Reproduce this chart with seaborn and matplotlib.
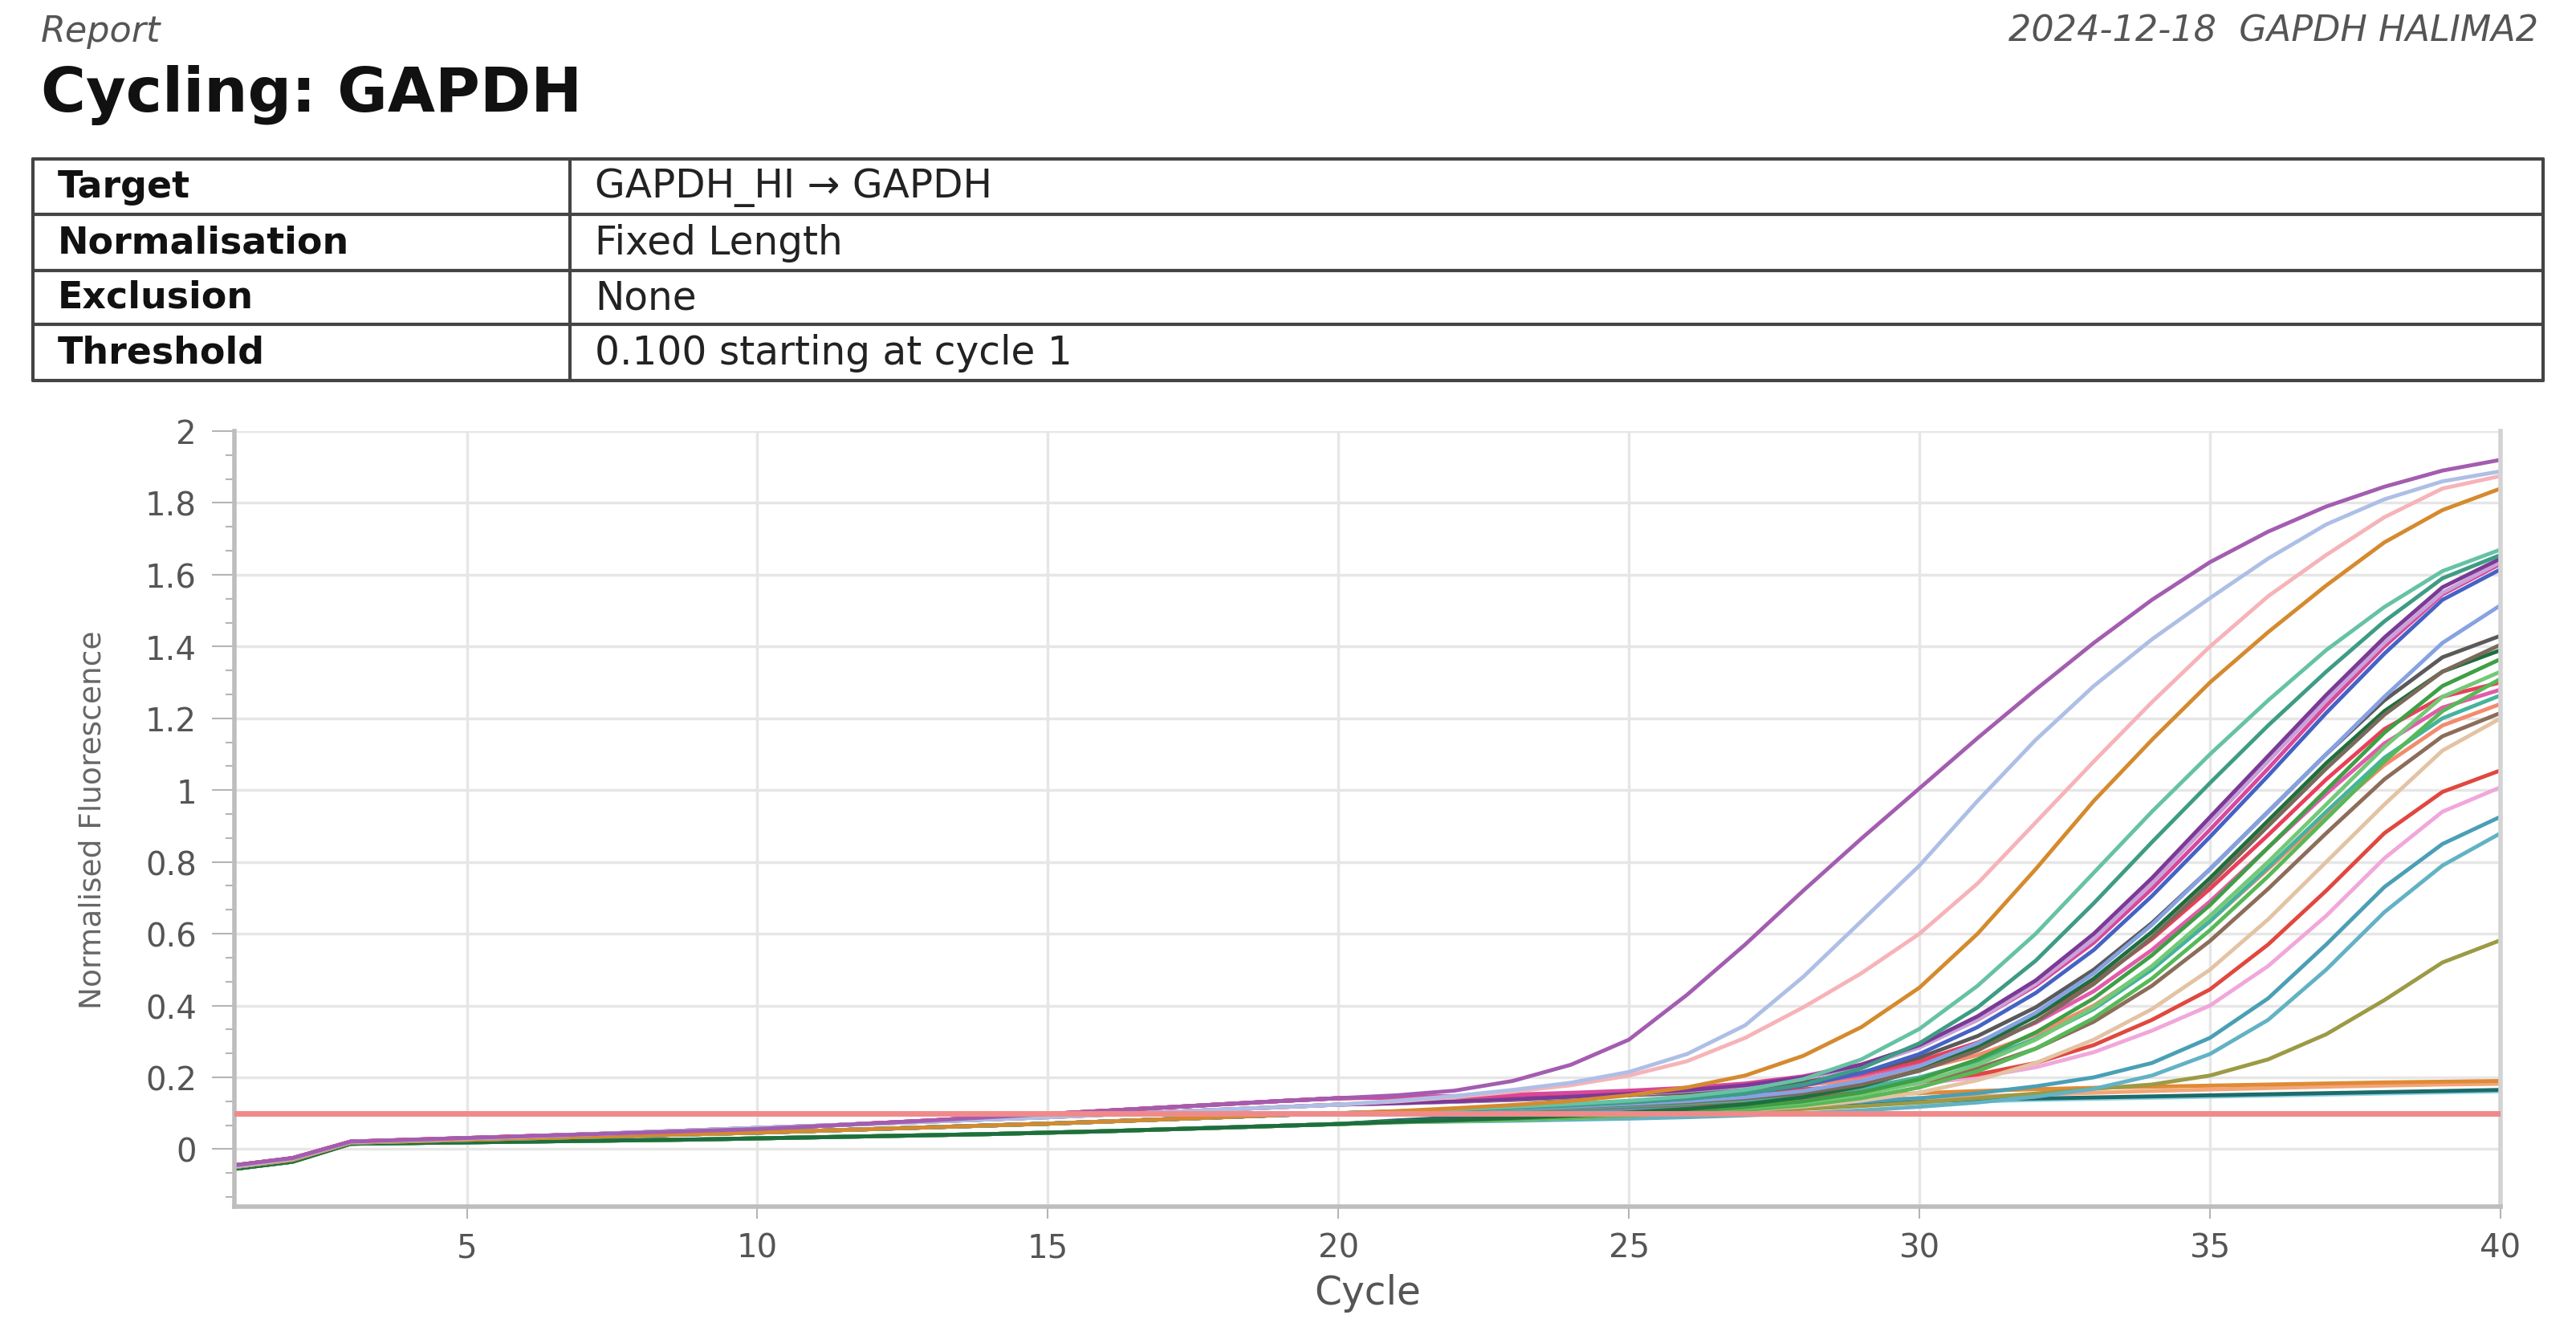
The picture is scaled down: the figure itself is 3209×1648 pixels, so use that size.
import pandas as pd
import seaborn as sns
import matplotlib.pyplot as plt
from matplotlib.ticker import MultipleLocator, AutoMinorLocator, FuncFormatter

cycles = list(range(1, 41))
threshold = 0.100

# early cycles 1-20
base_lo = [-0.055, -0.035, 0.015, 0.017, 0.019, 0.021, 0.023, 0.025, 0.027, 0.030,
           0.033, 0.036, 0.039, 0.042, 0.046, 0.050, 0.055, 0.060, 0.065, 0.070]
base_mid = [-0.050, -0.030, 0.018, 0.022, 0.026, 0.030, 0.034, 0.038, 0.042, 0.046,
            0.051, 0.056, 0.061, 0.066, 0.071, 0.077, 0.083, 0.089, 0.095, 0.100]
base_hi = [-0.048, -0.027, 0.020, 0.025, 0.030, 0.035, 0.041, 0.047, 0.053, 0.059,
           0.065, 0.071, 0.077, 0.083, 0.089, 0.096, 0.103, 0.110, 0.117, 0.124]
base_top = [-0.045, -0.025, 0.021, 0.026, 0.031, 0.036, 0.041, 0.046, 0.051, 0.056,
            0.064, 0.072, 0.080, 0.089, 0.098, 0.107, 0.116, 0.125, 0.134, 0.142]

# cycles 21-40 for each well
purple = [0.150, 0.163, 0.190, 0.235, 0.305, 0.430, 0.570, 0.720, 0.865, 1.005,
          1.145, 1.280, 1.410, 1.530, 1.635, 1.720, 1.790, 1.845, 1.890, 1.920]
light_blue = [0.135, 0.148, 0.165, 0.185, 0.215, 0.265, 0.345, 0.480, 0.635, 0.790,
              0.970, 1.140, 1.290, 1.420, 1.535, 1.645, 1.740, 1.810, 1.860, 1.888]
light_pink = [0.133, 0.145, 0.160, 0.178, 0.205, 0.245, 0.310, 0.395, 0.490, 0.600,
              0.740, 0.910, 1.080, 1.245, 1.400, 1.540, 1.655, 1.760, 1.840, 1.875]
orange = [0.106, 0.114, 0.123, 0.134, 0.150, 0.172, 0.205, 0.260, 0.340, 0.450,
          0.600, 0.780, 0.970, 1.140, 1.300, 1.440, 1.570, 1.690, 1.780, 1.840]
teal = [0.105, 0.111, 0.118, 0.126, 0.135, 0.147, 0.165, 0.195, 0.250, 0.335,
        0.455, 0.600, 0.770, 0.940, 1.100, 1.250, 1.390, 1.510, 1.610, 1.670]
teal_dark = [0.104, 0.109, 0.115, 0.122, 0.130, 0.140, 0.155, 0.180, 0.225, 0.295,
             0.395, 0.525, 0.685, 0.855, 1.020, 1.180, 1.330, 1.470, 1.590, 1.655]
purple_dark = [0.128, 0.133, 0.139, 0.146, 0.154, 0.164, 0.178, 0.200, 0.235, 0.290,
               0.370, 0.470, 0.600, 0.755, 0.925, 1.095, 1.265, 1.425, 1.565, 1.645]
lilac = [0.127, 0.132, 0.138, 0.145, 0.152, 0.162, 0.175, 0.196, 0.230, 0.283,
         0.360, 0.460, 0.585, 0.740, 0.910, 1.080, 1.250, 1.410, 1.550, 1.635]
magenta = [0.145, 0.148, 0.152, 0.157, 0.163, 0.171, 0.183, 0.203, 0.236, 0.287,
           0.360, 0.455, 0.575, 0.725, 0.890, 1.060, 1.235, 1.400, 1.545, 1.630]
blue = [0.105, 0.110, 0.116, 0.123, 0.131, 0.141, 0.155, 0.177, 0.212, 0.265,
        0.340, 0.435, 0.555, 0.705, 0.870, 1.040, 1.215, 1.380, 1.530, 1.615]
cornflower = [0.104, 0.108, 0.113, 0.119, 0.126, 0.134, 0.145, 0.162, 0.190, 0.232,
              0.295, 0.380, 0.490, 0.625, 0.780, 0.940, 1.100, 1.260, 1.410, 1.515]
dark_grey = [0.128, 0.132, 0.137, 0.143, 0.150, 0.158, 0.169, 0.186, 0.213, 0.255,
             0.315, 0.395, 0.500, 0.630, 0.780, 0.940, 1.100, 1.250, 1.370, 1.430]
grey_brown = [0.104, 0.108, 0.113, 0.118, 0.124, 0.131, 0.141, 0.156, 0.180, 0.218,
              0.275, 0.355, 0.460, 0.590, 0.740, 0.900, 1.060, 1.210, 1.330, 1.405]
dark_green = [0.076, 0.081, 0.087, 0.094, 0.102, 0.112, 0.125, 0.145, 0.175, 0.220,
              0.285, 0.370, 0.475, 0.605, 0.755, 0.915, 1.075, 1.220, 1.330, 1.390]
green = [0.076, 0.080, 0.085, 0.091, 0.098, 0.106, 0.117, 0.133, 0.158, 0.195,
         0.250, 0.325, 0.420, 0.540, 0.680, 0.840, 1.000, 1.160, 1.290, 1.365]
light_green = [0.075, 0.079, 0.084, 0.090, 0.097, 0.105, 0.115, 0.130, 0.152, 0.185,
               0.235, 0.305, 0.395, 0.510, 0.650, 0.800, 0.960, 1.120, 1.260, 1.330]
mid_green = [0.075, 0.078, 0.082, 0.087, 0.093, 0.100, 0.109, 0.122, 0.142, 0.172,
             0.217, 0.280, 0.365, 0.475, 0.610, 0.760, 0.920, 1.080, 1.220, 1.310]
rose = [0.145, 0.147, 0.150, 0.154, 0.159, 0.165, 0.174, 0.188, 0.210, 0.245,
        0.297, 0.370, 0.465, 0.585, 0.725, 0.875, 1.030, 1.170, 1.260, 1.300]
hot_pink = [0.144, 0.146, 0.149, 0.153, 0.158, 0.164, 0.172, 0.185, 0.205, 0.237,
            0.285, 0.352, 0.440, 0.555, 0.690, 0.840, 0.990, 1.130, 1.230, 1.280]
sea_green = [0.103, 0.106, 0.110, 0.115, 0.121, 0.128, 0.137, 0.150, 0.170, 0.200,
             0.245, 0.308, 0.390, 0.500, 0.635, 0.785, 0.940, 1.090, 1.200, 1.264]
salmon = [0.144, 0.146, 0.149, 0.152, 0.156, 0.161, 0.168, 0.178, 0.195, 0.222,
          0.262, 0.320, 0.400, 0.505, 0.635, 0.780, 0.930, 1.070, 1.180, 1.240]
brown = [0.103, 0.106, 0.109, 0.113, 0.118, 0.124, 0.132, 0.143, 0.160, 0.186,
         0.225, 0.280, 0.355, 0.455, 0.580, 0.725, 0.880, 1.030, 1.150, 1.215]
tan = [0.075, 0.078, 0.082, 0.087, 0.093, 0.100, 0.108, 0.119, 0.135, 0.158,
       0.192, 0.240, 0.305, 0.390, 0.500, 0.640, 0.800, 0.960, 1.110, 1.200]
red = [0.144, 0.145, 0.147, 0.149, 0.152, 0.156, 0.161, 0.167, 0.175, 0.188,
       0.208, 0.240, 0.290, 0.360, 0.445, 0.570, 0.720, 0.880, 0.995, 1.055]
pale_pink = [0.143, 0.144, 0.146, 0.148, 0.151, 0.154, 0.158, 0.163, 0.170, 0.182,
             0.200, 0.228, 0.270, 0.330, 0.400, 0.510, 0.650, 0.810, 0.940, 1.008]
steel_teal = [0.102, 0.104, 0.106, 0.108, 0.111, 0.114, 0.118, 0.124, 0.132, 0.142,
              0.156, 0.175, 0.200, 0.240, 0.310, 0.420, 0.570, 0.730, 0.850, 0.926]
sky_teal = [0.075, 0.077, 0.079, 0.082, 0.085, 0.089, 0.094, 0.100, 0.108, 0.118,
            0.130, 0.146, 0.168, 0.205, 0.265, 0.360, 0.500, 0.660, 0.790, 0.880]
olive = [0.076, 0.080, 0.085, 0.090, 0.095, 0.100, 0.106, 0.112, 0.120, 0.130,
         0.142, 0.155, 0.168, 0.180, 0.205, 0.250, 0.320, 0.415, 0.520, 0.582]
flat_orange = [0.105, 0.110, 0.115, 0.120, 0.126, 0.132, 0.138, 0.144, 0.150, 0.156,
               0.162, 0.167, 0.171, 0.174, 0.177, 0.180, 0.183, 0.186, 0.188, 0.190]
flat_peach = [0.102, 0.106, 0.110, 0.114, 0.118, 0.122, 0.127, 0.132, 0.137, 0.142,
              0.147, 0.152, 0.157, 0.162, 0.166, 0.170, 0.174, 0.177, 0.180, 0.182]
flat_teal = [0.080, 0.088, 0.096, 0.104, 0.110, 0.116, 0.121, 0.126, 0.130, 0.134,
             0.138, 0.141, 0.144, 0.147, 0.150, 0.153, 0.156, 0.159, 0.162, 0.165]
flat_cyan = [0.078, 0.085, 0.092, 0.099, 0.105, 0.111, 0.116, 0.121, 0.125, 0.129,
             0.133, 0.137, 0.140, 0.143, 0.146, 0.149, 0.152, 0.155, 0.158, 0.161]

wells = [
    ("flat_cyan", "#8fd3e3", base_lo, flat_cyan),
    ("flat_teal", "#1d6b6b", base_lo, flat_teal),
    ("flat_peach", "#f2a577", base_mid, flat_peach),
    ("flat_orange", "#e08a35", base_mid, flat_orange),
    ("olive", "#9c9a45", base_lo, olive),
    ("sky_teal", "#62b2c4", base_lo, sky_teal),
    ("steel_teal", "#4a9fb5", base_mid, steel_teal),
    ("pale_pink", "#f1a7da", base_top, pale_pink),
    ("red", "#e0483f", base_top, red),
    ("tan", "#e3c3a3", base_lo, tan),
    ("brown", "#8c6d5a", base_mid, brown),
    ("salmon", "#f28b6e", base_top, salmon),
    ("sea_green", "#45b39d", base_mid, sea_green),
    ("hot_pink", "#e15ca9", base_top, hot_pink),
    ("rose", "#e8405a", base_top, rose),
    ("mid_green", "#58b858", base_lo, mid_green),
    ("light_green", "#74c876", base_lo, light_green),
    ("green", "#3f9f45", base_lo, green),
    ("dark_green", "#1f6e3e", base_lo, dark_green),
    ("grey_brown", "#7a6a5a", base_mid, grey_brown),
    ("dark_grey", "#5a5a5a", base_hi, dark_grey),
    ("cornflower", "#86a2e3", base_mid, cornflower),
    ("blue", "#4563c4", base_mid, blue),
    ("magenta", "#d9489c", base_top, magenta),
    ("lilac", "#c8a2d8", base_hi, lilac),
    ("purple_dark", "#7b3a96", base_hi, purple_dark),
    ("teal_dark", "#3e9c84", base_mid, teal_dark),
    ("teal", "#66c2a5", base_mid, teal),
    ("orange", "#d58a2e", base_mid, orange),
    ("light_pink", "#f6b3b8", base_hi, light_pink),
    ("light_blue", "#aebfe6", base_hi, light_blue),
    ("purple", "#a35db0", base_top, purple),
]

table_keys = ["Target", "Normalisation", "Exclusion", "Threshold"]
table_vals = ["GAPDH_HI \u2192 GAPDH", "Fixed Length", "None", "0.100 starting at cycle 1"]

rows = []
for name, color, base, tail in wells:
    for c, v in zip(cycles, base + tail):
        rows.append((name, c, v))
df = pd.DataFrame(rows, columns=["well", "cycle", "fluor"])
palette = {name: color for name, color, _, _ in wells}
order = [w[0] for w in wells]

sns.set_theme(style="white")
plt.rcParams["font.family"] = ["DejaVu Sans"]

W, H = 3209, 1649
fig = plt.figure(figsize=(W / 100, H / 100), dpi=100)

# header
fig.text(51 / W, 1 - 52 / H, "Report", fontsize=32, style="italic", color="#555555")
fig.text(3162 / W, 1 - 52 / H, "2024-12-18  GAPDH HALIMA2", fontsize=32,
         style="italic", color="#555555", ha="right")
fig.text(51 / W, 1 - 139 / H, "Cycling: GAPDH", fontsize=55, fontweight="bold",
         color="#111111")

# info table
tx0, tx1, ty0, ty1 = 41, 3168, 199, 475
tab = fig.add_axes([tx0 / W, 1 - ty1 / H, (tx1 - tx0) / W, (ty1 - ty0) / H])
tab.set_xlim(0, tx1 - tx0)
tab.set_ylim(ty1 - ty0, 0)
tab.axis("off")
row_edges = [0, 69, 139, 206, 276]
for y in row_edges:
    tab.axhline(y, color="#444444", lw=3, clip_on=False)
for x in [0, 669, tx1 - tx0]:
    tab.axvline(x, color="#444444", lw=3, clip_on=False)
for i, (k, v) in enumerate(zip(table_keys, table_vals)):
    yc = (row_edges[i] + row_edges[i + 1]) / 2
    tab.text(31, yc, k, fontsize=33, fontweight="bold", va="center", color="#111111")
    tab.text(700, yc, v, fontsize=35, va="center", color="#222222")

# amplification plot
ax = fig.add_axes([292 / W, 1 - 1504 / H, (3115 - 292) / W, (1504 - 538) / H])
sns.lineplot(data=df, x="cycle", y="fluor", hue="well", hue_order=order,
             palette=palette, legend=False, linewidth=3.5, estimator=None, ax=ax)
ax.axhline(threshold, color="#f08a8a", lw=5, zorder=5)

ax.set_xlim(1, 40)
ax.set_ylim(-0.16, 2.0)
ax.xaxis.set_major_locator(MultipleLocator(5))
ax.yaxis.set_major_locator(MultipleLocator(0.2))
ax.yaxis.set_minor_locator(AutoMinorLocator(3))
ax.yaxis.set_major_formatter(FuncFormatter(lambda v, p: f"{v:g}"))
ax.grid(True, which="major", color="#e6e6e6", lw=2.5)
ax.set_axisbelow(True)

for side in ["left", "bottom", "right"]:
    ax.spines[side].set_color("#bdbdbd")
    ax.spines[side].set_linewidth(4)
ax.spines["right"].set_color("#d3d3d3")
ax.spines["top"].set_visible(False)

ax.tick_params(axis="y", which="major", length=20, width=1.5, color="#b5b5b5",
               labelsize=29, labelcolor="#555555", pad=14, left=True)
ax.tick_params(axis="y", which="minor", length=8, width=1.5, color="#b5b5b5", left=True)
ax.tick_params(axis="x", which="major", length=11, width=1.5, color="#b5b5b5",
               labelsize=29, labelcolor="#555555", pad=12, bottom=True)

ax.set_xlabel("Cycle", fontsize=35, color="#555555", labelpad=8)
ax.set_ylabel("Normalised Fluorescence", fontsize=27, color="#666666", labelpad=34)

fig.savefig("out.png", dpi=100)
